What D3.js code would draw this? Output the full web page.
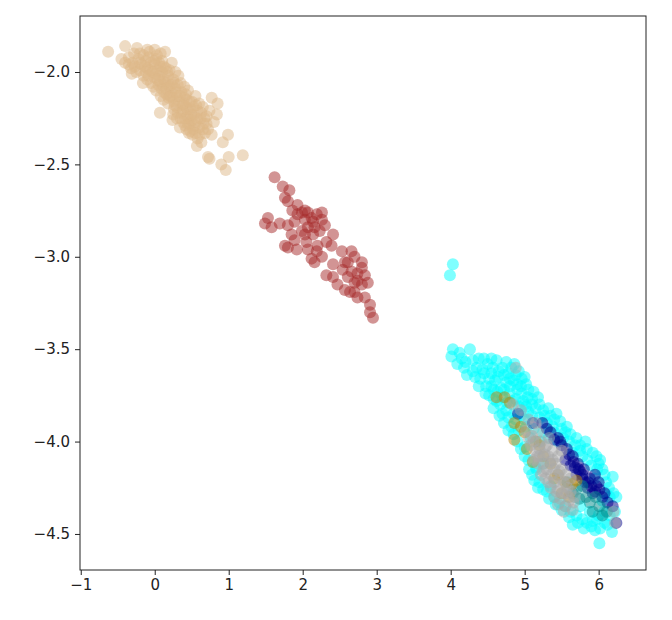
<!DOCTYPE html>
<html>
<head>
<meta charset="utf-8">
<script src="https://cdn.jsdelivr.net/npm/d3@7"></script>
<style>
  html, body { margin: 0; padding: 0; background: #fff; }
  svg text { font-family: "DejaVu Sans", sans-serif; }
</style>
</head>
<body>
<svg id="chart" width="672" height="620"></svg>
<script>
// ---- Data ----
const xTicks = [-1, 0, 1, 2, 3, 4, 5, 6];
const yTicks = [-2.0, -2.5, -3.0, -3.5, -4.0, -4.5];
const seriesNames = ["burlywood", "brown", "cyan", "darkblue", "darkcyan", "darkgoldenrod", "darkgray"];
const seriesColors = ["#deb887", "#a52a2a", "#00ffff", "#00008b", "#008b8b", "#b8860b", "#a9a9a9"];

const burlywoodPts = [
  [-0.63,-1.89],[-0.40,-1.86],[-0.24,-1.87],[-0.35,-1.92],[-0.30,-1.95],[-0.28,-1.90],[-0.22,-1.93],
  [-0.18,-1.96],[-0.15,-1.91],[-0.12,-1.94],[-0.10,-1.98],[-0.08,-1.92],[-0.05,-1.95],[-0.03,-2.00],
  [0.00,-1.96],[0.02,-1.93],[0.04,-1.99],[0.06,-2.02],[0.03,-1.91],[0.14,-1.89],[0.23,-1.95],
  [0.08,-1.97],[0.10,-2.00],[0.12,-2.04],[-0.20,-1.99],[-0.15,-2.02],[-0.10,-2.04],[-0.05,-2.06],
  [0.00,-2.03],[0.05,-2.07],[0.09,-2.09],[0.14,-2.06],[0.18,-2.02],[0.20,-2.08],[0.22,-2.11],
  [0.25,-2.04],[0.28,-2.09],[0.30,-2.13],[0.16,-2.12],[0.12,-2.15],[0.18,-2.17],[0.24,-2.14],
  [0.27,-2.18],[0.33,-2.16],[0.36,-2.11],[0.40,-2.14],[0.42,-2.19],[0.38,-2.21],[0.31,-2.22],
  [0.35,-2.25],[0.44,-2.24],[0.48,-2.20],[0.50,-2.16],[0.53,-2.23],[0.55,-2.27],[0.47,-2.28],
  [0.41,-2.29],[0.52,-2.31],[0.58,-2.21],[0.62,-2.25],[0.60,-2.30],[0.66,-2.28],[0.70,-2.24],
  [0.65,-2.19],[0.74,-2.21],[0.77,-2.14],[0.85,-2.17],[0.84,-2.23],[0.80,-2.27],[0.72,-2.31],
  [0.68,-2.33],[0.51,-2.34],[0.77,-2.34],[0.92,-2.38],[0.99,-2.34],[0.74,-2.47],[0.90,-2.50],
  [0.96,-2.53],[1.00,-2.46],[1.19,-2.45],[0.07,-2.22],[-0.25,-2.00],[-0.32,-1.98],[-0.40,-1.95],
  [-0.45,-1.93],[0.45,-2.10],[0.55,-2.13],[0.60,-2.17],[0.35,-2.06],[0.40,-2.08],[0.20,-1.99],
  [0.28,-2.00],[0.24,-2.26],[0.34,-2.30],[0.26,-2.20],[0.46,-2.33],[0.58,-2.36],[0.63,-2.38],
  [0.57,-2.40],[0.08,-2.13],[0.02,-2.10],[-0.02,-2.08],[0.32,-2.02],[0.10,-1.94],[-0.07,-1.89],
  [0.00,-1.88],[0.38,-2.18],[0.43,-2.15],[0.46,-2.25],[0.56,-2.18],[0.63,-2.22],[0.70,-2.28],
  [0.15,-1.98],[0.18,-2.05],[0.26,-2.06],[-0.31,-2.01],[-0.16,-2.06],[0.72,-2.46],
  [-0.35,-1.96],[-0.27,-1.97],[-0.20,-1.95],[-0.13,-1.97],[-0.06,-1.99],[0.01,-2.01],[0.07,-2.05],
  [0.11,-2.07],[0.16,-2.09],[0.21,-2.13],[0.26,-2.16],[0.30,-2.19],[0.36,-2.22],[0.41,-2.25],
  [0.45,-2.28],[0.50,-2.26],[0.54,-2.29],[0.49,-2.23],[0.44,-2.20],[0.39,-2.17],[0.34,-2.13],
  [0.29,-2.11],[0.23,-2.07],[0.17,-2.00],[0.12,-1.97],[0.06,-1.95],[-0.01,-1.94],[-0.12,-2.00],
  [-0.08,-2.02],[0.04,-2.04],[0.13,-2.11],[0.19,-2.14],[0.25,-2.23],[0.30,-2.25],[0.38,-2.27],
  [0.43,-2.31],[0.48,-2.32],[0.55,-2.33],[0.61,-2.34],[0.65,-2.31],[0.67,-2.25],[0.57,-2.25],
  [0.52,-2.19],[0.47,-2.16],[0.42,-2.12],[0.31,-2.07],[-0.20,-1.90],[-0.10,-1.88],[0.08,-1.90]
];

const brownPts = [
  [1.62,-2.57],[1.73,-2.62],[1.82,-2.64],[1.76,-2.68],[1.80,-2.70],[1.93,-2.72],[2.03,-2.75],
  [1.93,-2.77],[1.53,-2.79],[1.49,-2.82],[1.58,-2.84],[1.69,-2.82],[1.80,-2.83],[1.89,-2.81],
  [2.03,-2.80],[2.12,-2.79],[2.19,-2.77],[2.26,-2.80],[2.30,-2.83],[2.16,-2.84],[2.07,-2.84],
  [1.99,-2.86],[1.85,-2.88],[1.89,-2.91],[1.80,-2.95],[1.92,-2.96],[2.05,-2.92],[2.07,-2.96],
  [2.19,-2.97],[2.12,-3.01],[2.16,-3.03],[2.26,-3.00],[2.32,-2.92],[2.41,-2.88],[2.39,-2.94],
  [2.53,-2.97],[2.66,-2.97],[2.70,-3.00],[2.80,-3.03],[2.80,-3.06],[2.74,-3.09],[2.66,-3.08],
  [2.54,-3.07],[2.41,-3.04],[2.32,-3.10],[2.41,-3.11],[2.47,-3.15],[2.57,-3.18],[2.64,-3.19],
  [2.70,-3.19],[2.80,-3.15],[2.88,-3.14],[2.74,-3.13],[2.61,-3.11],[2.84,-3.22],[2.74,-3.22],
  [2.91,-3.26],[2.91,-3.30],[2.95,-3.33],[2.61,-3.03],[2.14,-2.88],[2.23,-2.86],[2.07,-2.76],
  [1.99,-2.76],[1.86,-2.75],[2.26,-2.76],[2.14,-2.81],[2.03,-2.88],[2.20,-2.94],[1.76,-2.94],
  [2.57,-3.03],[2.84,-3.10],[2.70,-3.14]
];

const cyanPts = [
  [4.03,-3.04],[3.99,-3.10],
  [4.03,-3.50],[4.01,-3.54],[4.26,-3.50],[4.09,-3.58],[4.22,-3.64],[4.30,-3.56],[4.43,-3.61],
  [4.62,-3.56],[4.86,-3.58],[5.00,-3.65],[4.15,-3.55],[4.35,-3.60],[4.50,-3.58],[4.55,-3.63],
  [4.70,-3.60],[4.78,-3.63],[4.92,-3.62],[4.40,-3.66],[4.48,-3.70],[4.60,-3.67],[4.68,-3.71],
  [4.75,-3.68],[4.85,-3.67],[4.95,-3.70],[5.05,-3.72],[4.52,-3.75],[4.62,-3.78],[4.70,-3.76],
  [4.80,-3.74],[4.88,-3.77],[4.98,-3.78],[5.10,-3.77],[5.15,-3.82],[4.58,-3.82],[4.66,-3.86],
  [4.75,-3.83],[4.85,-3.85],[4.95,-3.86],[5.05,-3.84],[5.20,-3.87],[5.25,-3.83],[4.72,-3.90],
  [4.82,-3.92],[4.92,-3.94],[5.02,-3.92],[5.12,-3.93],[5.30,-3.90],[5.35,-3.86],[5.43,-3.85],
  [5.57,-3.92],[5.50,-3.93],[5.40,-3.95],[4.90,-4.00],[5.00,-4.03],[5.20,-4.00],[5.32,-3.98],
  [5.45,-4.00],[5.60,-4.00],[5.70,-3.98],[5.84,-4.04],[5.97,-4.08],[5.78,-4.08],[5.65,-4.06],
  [5.05,-4.10],[5.15,-4.14],[5.25,-4.12],[5.90,-4.13],[6.05,-4.15],[6.19,-4.19],[6.10,-4.22],
  [5.95,-4.20],[5.10,-4.18],[5.16,-4.15],[5.20,-4.22],[5.30,-4.27],[5.35,-4.24],[5.40,-4.30],
  [5.47,-4.33],[5.55,-4.35],[5.62,-4.38],[5.70,-4.40],[5.78,-4.42],[5.84,-4.44],[5.92,-4.43],
  [6.00,-4.40],[6.08,-4.38],[6.24,-4.30],[6.15,-4.30],[6.18,-4.49],[6.01,-4.55],[5.88,-4.38],
  [6.05,-4.32],[6.12,-4.45],[5.75,-4.35],[5.68,-4.30],[4.20,-3.57],[4.33,-3.65],[4.45,-3.55],
  [4.58,-3.72],[4.65,-3.62],[4.90,-3.72],[5.00,-3.80],[5.08,-3.98],[5.25,-3.95],[5.38,-3.92],
  [5.52,-3.98],[5.75,-4.02],[5.85,-4.10],[6.00,-4.12],[6.10,-4.28],[5.65,-4.45],[5.95,-4.48],
  [4.45,-3.63],[4.52,-3.66],[4.57,-3.60],[4.64,-3.65],[4.72,-3.64],[4.80,-3.66],[4.88,-3.64],
  [4.96,-3.66],[5.02,-3.69],[4.55,-3.70],[4.63,-3.73],[4.72,-3.72],[4.80,-3.70],[4.90,-3.69],
  [4.96,-3.74],[5.04,-3.76],[5.12,-3.73],[4.67,-3.80],[4.76,-3.79],[4.84,-3.78],[4.92,-3.81],
  [5.02,-3.81],[5.10,-3.80],[5.20,-3.80],[5.18,-3.76],[4.70,-3.85],[4.78,-3.87],[4.88,-3.88],
  [5.00,-3.88],[5.10,-3.86],[5.27,-3.86],[5.32,-3.82],[5.40,-3.88],[5.48,-3.89],[5.55,-3.95],
  [5.62,-3.96],[5.68,-4.02],[5.75,-4.05],[5.82,-4.00],[5.92,-4.06],[6.02,-4.10],[6.08,-4.18],
  [5.98,-4.15],[6.14,-4.25],[6.20,-4.28],[6.22,-4.38],[6.15,-4.40],[6.08,-4.44],[6.02,-4.47],
  [5.98,-4.42],[5.90,-4.46],[5.80,-4.47],[5.72,-4.44],[5.60,-4.41],[5.50,-4.37],[5.42,-4.34],
  [5.33,-4.31],[5.25,-4.26],[5.18,-4.25],[5.13,-4.21],[5.06,-4.15],[5.00,-4.08],[4.95,-4.04],
  [4.85,-3.96],[4.78,-3.94],[4.58,-3.77],[4.47,-3.74],[4.38,-3.70],[4.30,-3.62],[4.18,-3.60],
  [4.12,-3.52],[4.38,-3.55],[4.55,-3.55],[4.75,-3.57],[4.82,-3.60]
];

const darkbluePts = [
  [4.91,-3.85],[5.11,-3.90],[5.24,-3.90],[5.35,-3.95],[5.45,-3.98],[5.57,-4.04],[5.65,-4.08],
  [5.72,-4.12],[5.80,-4.15],[5.88,-4.20],[5.97,-4.24],[6.01,-4.26],[5.92,-4.28],[5.85,-4.25],
  [5.78,-4.20],[5.70,-4.18],[5.62,-4.13],[5.55,-4.10],[5.95,-4.18],[6.05,-4.30],[6.19,-4.35],
  [6.24,-4.44],[6.12,-4.33],[5.68,-4.14],[5.82,-4.22],[5.90,-4.24],[5.75,-4.16],[5.50,-4.02],
  [5.40,-3.99],[5.30,-3.93],[5.48,-4.00],[5.60,-4.07],[5.73,-4.15],[5.86,-4.22],[5.95,-4.27],
  [6.00,-4.22],[6.08,-4.28],[5.78,-4.18],[5.66,-4.11]
];

const darkcyanPts = [
  [5.74,-4.31],[5.83,-4.30],[6.01,-4.35],[6.11,-4.38],[5.78,-4.24],[5.92,-4.38],[5.70,-4.26],
  [5.88,-4.33],[5.65,-4.28],[5.58,-4.22],[6.05,-4.40],[5.96,-4.30]
];

const darkgoldenrodPts = [
  [4.62,-3.76],[4.73,-3.76],[4.80,-3.79],[4.86,-3.90],[4.86,-3.99],[5.03,-4.04],[5.11,-4.11],
  [5.64,-4.23],[5.70,-4.21],[5.20,-4.02],[5.35,-4.12],[5.45,-4.18],[5.55,-4.22],[5.00,-3.95],
  [5.25,-4.08],[5.60,-4.30],[5.50,-4.28],[5.40,-4.20],[5.15,-4.00],[4.95,-3.92]
];

const darkgrayPts = [
  [4.88,-3.60],[4.84,-3.80],[4.95,-3.83],[5.05,-3.88],[5.15,-3.90],[5.02,-3.94],[5.10,-3.97],
  [5.18,-3.95],[5.08,-4.02],[5.15,-4.05],[5.22,-4.00],[5.28,-4.03],[5.20,-4.08],[5.25,-4.12],
  [5.32,-4.08],[5.38,-4.05],[5.30,-4.15],[5.36,-4.18],[5.42,-4.12],[5.45,-4.08],[5.40,-4.22],
  [5.48,-4.20],[5.50,-4.15],[5.55,-4.18],[5.45,-4.26],[5.52,-4.28],[5.58,-4.25],[5.62,-4.20],
  [5.60,-4.32],[5.68,-4.30],[5.35,-4.25],[5.28,-4.20],[5.22,-4.18],[5.55,-4.35],[5.65,-4.37],
  [5.40,-4.30],[5.18,-4.12],[5.12,-4.10],[6.20,-4.38],[6.22,-4.44],[5.50,-4.05],[5.33,-3.98],
  [5.05,-3.98],[5.12,-4.00],[5.20,-4.04],[5.27,-4.07],[5.34,-4.11],[5.40,-4.15],[5.47,-4.16],
  [5.53,-4.22],[5.57,-4.28],[5.48,-4.31],[5.43,-4.27],[5.32,-4.22],[5.25,-4.16],[5.17,-4.08],
  [5.62,-4.27],[5.66,-4.33],[5.53,-4.38],[5.45,-4.34],[5.38,-4.10],[5.30,-4.02]
];

const seriesPoints = [burlywoodPts, brownPts, cyanPts, darkbluePts, darkcyanPts, darkgoldenrodPts, darkgrayPts];

// ---- Layout ----
const svg = d3.select("#chart");
const plot = { left: 80, top: 16, right: 646, bottom: 570 };

const x = d3.scaleLinear().domain([-1.01, 6.64]).range([plot.left, plot.right]);
const y = d3.scaleLinear().domain([-1.697, -4.695]).range([plot.top, plot.bottom]);

svg.append("rect").attr("width", 672).attr("height", 620).attr("fill", "#fff");

svg.append("clipPath").attr("id", "clip")
  .append("rect").attr("x", plot.left).attr("y", plot.top)
  .attr("width", plot.right - plot.left).attr("height", plot.bottom - plot.top);

const pts = svg.append("g").attr("clip-path", "url(#clip)");
seriesPoints.forEach((arr, i) => {
  pts.append("g").attr("class", seriesNames[i]).selectAll("circle").data(arr).join("circle")
    .attr("cx", d => x(d[0]))
    .attr("cy", d => y(d[1]))
    .attr("r", 6)
    .attr("fill", seriesColors[i])
    .attr("fill-opacity", 0.5);
});

const fmtMinus = s => s.replace("-", "\u2212");

const xAxis = svg.append("g").attr("transform", `translate(0,${plot.bottom})`)
  .call(d3.axisBottom(x).tickValues(xTicks).tickSize(5).tickPadding(4).tickFormat(d => fmtMinus(d3.format("d")(d))));
const yAxis = svg.append("g").attr("transform", `translate(${plot.left},0)`)
  .call(d3.axisLeft(y).tickValues(yTicks).tickSize(5).tickPadding(5).tickFormat(d => fmtMinus(d3.format(".1f")(d))));

[xAxis, yAxis].forEach(g => {
  g.select(".domain").remove();
  g.selectAll("line").attr("stroke", "#222").attr("stroke-width", 1);
  g.selectAll("text").attr("fill", "#222").style("font-size", "15px").style("font-family", "DejaVu Sans");
});

svg.append("rect")
  .attr("x", plot.left).attr("y", plot.top)
  .attr("width", plot.right - plot.left).attr("height", plot.bottom - plot.top)
  .attr("fill", "none").attr("stroke", "#222").attr("stroke-width", 1);
</script>
</body>
</html>
